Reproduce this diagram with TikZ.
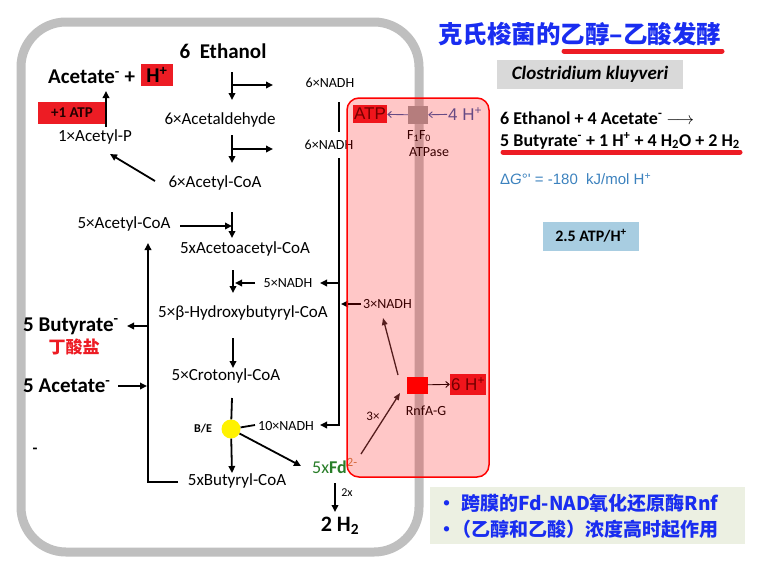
\documentclass[tikz,border=0pt]{standalone}
\usepackage{fontspec}
\setmainfont{Carlito}
\newfontfamily\cjkfont{Noto Sans CJK SC}
\newfontfamily\arialfont{Liberation Sans}
\usetikzlibrary{arrows.meta,positioning,calc}
\definecolor{cellgray}{RGB}{191,191,191}
\definecolor{hlred}{RGB}{237,28,36}
\definecolor{titleblue}{RGB}{25,45,240}
\definecolor{dgblue}{RGB}{60,130,190}
\definecolor{atpblue}{RGB}{168,205,225}
\definecolor{notebg}{RGB}{236,240,226}
\definecolor{fdgreen}{RGB}{40,125,40}
\definecolor{fdorange}{RGB}{200,130,70}
\definecolor{hslate}{RGB}{60,95,170}
\newcommand{\fsz}[1]{\fontsize{#1}{#1}\selectfont}
\tikzset{
  cell/.style={draw=cellgray, line width=9pt, rounded corners=45pt},
  flow/.style={line width=1.8pt, -{Stealth[length=7pt,width=6.5pt,inset=0pt]}},
  wire/.style={line width=1.8pt},
  pump/.style={line width=1.3pt, draw=black!85, -{Stealth[length=7pt,width=5.5pt,inset=0pt]}},
  thinarr/.style={line width=0.9pt, draw=hslate, -{Straight Barb[length=3.5pt,width=6pt]}},
  met/.style={font=\fsz{17}, inner sep=1pt},
  small/.style={font=\fsz{14}, inner sep=1pt},
  big/.style={font=\bfseries\fsz{21}, inner sep=1pt},
  hl/.style={fill=hlred, inner sep=1pt},
  ul/.style={draw=hlred, line width=5pt, line cap=round},
  note/.style={font=\cjkfont\bfseries\fsz{19}, text=titleblue, anchor=west, inner sep=0pt},
  membox/.style={draw=red, line width=1.5pt, fill=red, fill opacity=.22, rounded corners=12pt}
}
\begin{document}
\begin{tikzpicture}[x=1pt,y=-1pt]
  \useasboundingbox (0,0) rectangle (759,565);
  % cell and membrane
  \draw[cell] (21,22) rectangle (419,552);

  % ---- pathway ----
  \node[big] (eth) at (223,51) {6\ \ Ethanol};
  \node[big, anchor=west] (acet) at (47,77) {Acetate\textsuperscript{-} +};
  \node[hl, font=\bfseries\fsz{21}, minimum width=32pt, minimum height=22pt] (hplus) at (157,75) {H\textsuperscript{+}};
  \node[hl, font=\bfseries\fsz{15}, minimum width=69pt, minimum height=22pt, text=black!85!red] (atpa) at (72,113) {+1 ATP};
  \node[met] (acp) at (95,137) {1×Acetyl-P};
  \node[met] (ald) at (220,120) {6×Acetaldehyde};
  \node[met] (acoa6) at (215,183) {6×Acetyl-CoA};
  \node[small] (nadha) at (330,83) {6×NADH};
  \node[small] (nadhb) at (329,145) {6×NADH};
  \node[met] (acoa5) at (124,224) {5×Acetyl-CoA};
  \node[met] (aca) at (245,249) {5xAcetoacetyl-CoA};
  \node[small] (nadhc) at (288,283) {5×NADH};
  \node[met] (hbc) at (243,313) {5×β-Hydroxybutyryl-CoA};
  \node[met] (cro) at (226,376) {5×Crotonyl-CoA};
  \node[circle, fill=yellow, minimum size=19pt, inner sep=0pt] (be) at (231,429) {};
  \node[font=\bfseries\fsz{12}, inner sep=1pt] (belab) at (203,429) {B/E};
  \node[small] (nadhd) at (286,426) {10×NADH};
  \node[met] (buco) at (237,481) {5xButyryl-CoA};
  \node[font=\fsz{18}, text=fdgreen, inner sep=1pt, anchor=west] (fd) at (311,466)
    {5x\textbf{Fd}\textsuperscript{\color{fdorange}2-}};
  \node[big, anchor=west] (but) at (22,326) {5 Butyrate\textsuperscript{-}};
  \node[font=\cjkfont\bfseries\fsz{17}, text=hlred, inner sep=1pt] (butcn) at (74,347) {丁酸盐};
  \node[big, anchor=west] (ac5) at (22,386) {5 Acetate\textsuperscript{-}};
  \node[font=\bfseries\fsz{16}, inner sep=1pt] (dash) at (35,451) {-};
  \node[font=\fsz{12}, inner sep=1pt] (twox) at (347,493) {2x};
  \node[font=\bfseries\fsz{22}, inner sep=1pt] (h2) at (340,526) {2 H\textsubscript{2}};

  \coordinate (ea) at (232,72);  \coordinate (eb) at (232,100);
  \coordinate (ec) at (232,85);  \coordinate (ed) at (273,85);
  \draw[flow] (ea) -- (eb);
  \draw[flow] (ec) -- (ed);
  \coordinate (fa) at (232,135); \coordinate (fb) at (232,163);
  \coordinate (fc) at (232,149); \coordinate (fd1) at (273,149);
  \draw[flow] (fa) -- (fb);
  \draw[flow] (fc) -- (fd1);
  \draw[flow] (155,181) coordinate (ga) -- (110,154) coordinate (gb);
  \draw[flow] (106,127) coordinate (pa) -- (106,91) coordinate (pb);
  \draw[flow] (180,226) coordinate (ka) -- (232,226) coordinate (kb);
  \draw[flow] (232,212) coordinate (kc) -- (232,238) coordinate (kd);
  \draw[flow] (255,283) coordinate (ma) -- (235,283) coordinate (mb);
  \draw[flow] (233,270) coordinate (mc) -- (233,293) coordinate (md);
  \draw[flow] (233,338) coordinate (na) -- (233,368) coordinate (nb);
  \draw[wire] (232,398) coordinate (ra) -- (be);
  \draw[flow] (be) -- (232,473) coordinate (rb);
  \draw[wire] (be) -- (255,425) coordinate (rc);
  \draw[flow] (be) -- (301,466) coordinate (rd);
  % NADH bus
  \draw[wire] (339,102) coordinate (sa) -- (339,132) coordinate (sb);
  \draw[flow] (339,158) coordinate (sc) -- (339,425) coordinate (sd) -- (320,425) coordinate (se);
  \draw[flow] (339,283) coordinate (sf) -- (320,283) coordinate (sg);
  \draw[flow] (361,304) coordinate (sh) -- (341,304) coordinate (si);
  % side chain
  \draw[flow] (178,482) coordinate (ta) -- (148,482) -- (148,243) coordinate (tb);
  \draw[flow] (148,326) coordinate (tc) -- (127,326) coordinate (td);
  \draw[flow] (118,386) coordinate (te) -- (147,386) coordinate (tf);
  \draw[flow] (335,483) coordinate (ua) -- (335,512) coordinate (ub);

  % ---- membrane proteins ----
  \node[hl, font=\arialfont\fsz{17}, text=black!70!red, minimum width=34pt, minimum height=18pt] (atpb) at (370,114) {ATP};
  \node[fill=black!37, minimum width=20pt, minimum height=18pt, inner sep=0pt] (ase) at (418,115) {};
  \node[font=\arialfont\fsz{17}, text=hslate, anchor=west, inner sep=1pt] (h4) at (447,114) {4 H\textsuperscript{+}};
  \node[font=\fsz{14}, inner sep=1pt] (f1f0) at (419,136) {F\textsubscript{1}F\textsubscript{0}};
  \node[font=\fsz{14}, inner sep=1pt] (atpase) at (429,152) {ATPase};
  \draw[thinarr] (ase) -- (atpb);
  \draw[thinarr] (h4) -- (ase);
  \node[font=\fsz{14}, anchor=west, inner sep=1pt] (nadhe) at (362,304) {3×NADH};
  \node[fill=red, minimum width=21pt, minimum height=17pt, inner sep=0pt] (rnf) at (417,385) {};
  \node[hl, font=\arialfont\fsz{17}, text=black!70!red, minimum width=34pt, minimum height=21pt] (h6) at (468,384) {6 H\textsuperscript{+}};
  \node[font=\fsz{14}, inner sep=1pt] (rnflab) at (426,411) {RnfA-G};
  \node[font=\fsz{13}, inner sep=1pt] (three) at (373,416) {3×};
  \draw[thinarr, draw=black] (rnf) -- (h6);
  \draw[pump] (361,454) coordinate (va) -- (400,393) coordinate (vb);
  \draw[pump] (398,375) coordinate (vc) -- (383,318) coordinate (vd);
  \draw[membox] (347,98) rectangle (489,477);

  % ---- right side ----
  \node[font=\cjkfont\bfseries\fsz{24.5}, text=titleblue, anchor=west, inner sep=0pt] (title) at (438,34) {克氏梭菌的乙醇–乙酸发酵};
  \draw[ul] (564,51) coordinate (wa) -- (722,51) coordinate (wb);
  \node[fill=black!15, minimum width=186pt, minimum height=29pt, font=\bfseries\itshape\fsz{19}] (clos) at (590,74) {Clostridium kluyveri};
  \node[font=\bfseries\fsz{18}, anchor=west, inner sep=0pt] (eqa) at (500,118) {6 Ethanol + 4 Acetate\textsuperscript{-} $\longrightarrow$};
  \node[font=\bfseries\fsz{18}, anchor=west, inner sep=0pt] (eqb) at (500,141) {5 Butyrate\textsuperscript{-} + 1 H\textsuperscript{+} + 4 H\textsubscript{2}O + 2 H\textsubscript{2}};
  \draw[ul] (503,152) coordinate (wc) -- (740,152) coordinate (wd);
  \node[font=\arialfont\fsz{15}, text=dgblue, anchor=west, inner sep=0pt] (dg) at (500,179) {Δ\textit{G}°' = -180\ \ kJ/mol H\textsuperscript{+}};
  \node[fill=atpblue, minimum width=96pt, minimum height=29pt, font=\bfseries\fsz{16}] (atph) at (591,236) {2.5 ATP/H\textsuperscript{+}};
  \fill[notebg] (430,487) rectangle (745,544);
  \node[note] (nta) at (437,503) {•\hspace{5pt}跨膜的Fd-NAD氧化还原酶Rnf};
  \node[note] (ntb) at (437,529) {•\hspace{-4pt}（乙醇和乙酸）浓度高时起作用};
\end{tikzpicture}
\end{document}
